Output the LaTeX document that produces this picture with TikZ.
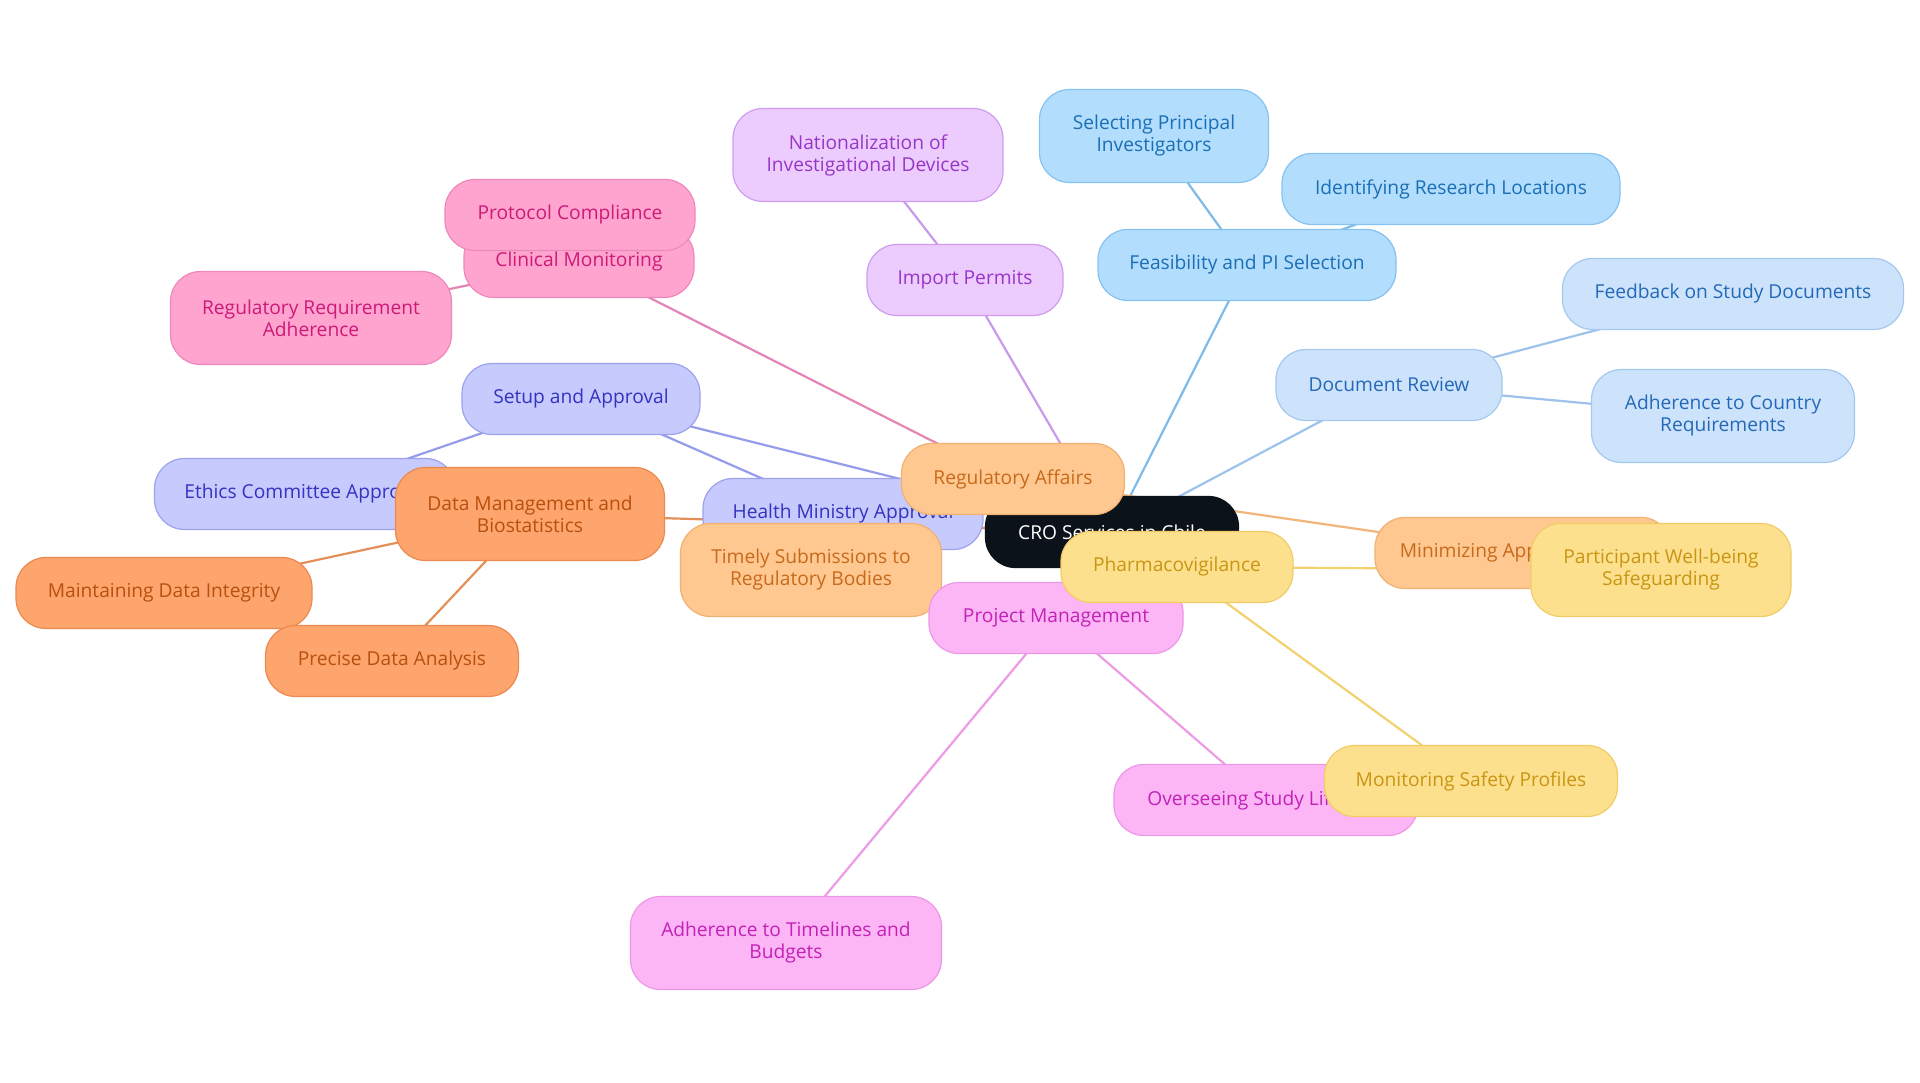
\documentclass[tikz,border=0pt]{standalone}
\usepackage{fontspec}
\setmainfont{Open Sans}
\usepackage{tikz}
\usetikzlibrary{backgrounds}
\definecolor{RootFill}{HTML}{0B1219}
\definecolor{FeasFill}{HTML}{B3DDFD}\definecolor{FeasLine}{HTML}{86C2F0}\definecolor{FeasText}{HTML}{1A6FB5}\definecolor{FeasEdge}{HTML}{7DBBE8}
\definecolor{DocFill}{HTML}{CDE3FB}\definecolor{DocLine}{HTML}{A4C8EE}\definecolor{DocText}{HTML}{2369B8}\definecolor{DocEdge}{HTML}{9DC3EC}
\definecolor{ImpFill}{HTML}{ECCBFD}\definecolor{ImpLine}{HTML}{CE9DF0}\definecolor{ImpText}{HTML}{9836C9}\definecolor{ImpEdge}{HTML}{C79BEA}
\definecolor{ClinFill}{HTML}{FFA4CF}\definecolor{ClinLine}{HTML}{EE88BA}\definecolor{ClinText}{HTML}{CC1A78}\definecolor{ClinEdge}{HTML}{E585B5}
\definecolor{SetFill}{HTML}{C7CAFD}\definecolor{SetLine}{HTML}{9CA2EE}\definecolor{SetText}{HTML}{3333BF}\definecolor{SetEdge}{HTML}{959CEB}
\definecolor{RegFill}{HTML}{FEC890}\definecolor{RegLine}{HTML}{F0B172}\definecolor{RegText}{HTML}{C86A1C}\definecolor{RegEdge}{HTML}{F2B57C}
\definecolor{DatFill}{HTML}{FDA56D}\definecolor{DatLine}{HTML}{EA8A50}\definecolor{DatText}{HTML}{B8500F}\definecolor{DatEdge}{HTML}{E39058}
\definecolor{PrjFill}{HTML}{FCB6F5}\definecolor{PrjLine}{HTML}{EC98E6}\definecolor{PrjText}{HTML}{C321B8}\definecolor{PrjEdge}{HTML}{EE9BE6}
\definecolor{PhvFill}{HTML}{FDE08D}\definecolor{PhvLine}{HTML}{F1CC66}\definecolor{PhvText}{HTML}{C89614}\definecolor{PhvEdge}{HTML}{F2D26E}
\tikzset{
  MB/.style={rectangle,rounded corners=30pt,inner sep=0pt,
             minimum width=250pt,minimum height=71pt,
             text centered,align=center,draw,line width=1.2pt,
             font=\fontsize{19.2}{22}\selectfont},
  tall/.style={minimum height=93pt},
  nRoot/.style={MB,fill=RootFill,draw=RootFill,text=white},
  nFeas/.style={MB,fill=FeasFill,draw=FeasLine,text=FeasText},
  nDoc/.style={MB,fill=DocFill,draw=DocLine,text=DocText},
  nImp/.style={MB,fill=ImpFill,draw=ImpLine,text=ImpText},
  nClin/.style={MB,fill=ClinFill,draw=ClinLine,text=ClinText},
  nSet/.style={MB,fill=SetFill,draw=SetLine,text=SetText},
  nReg/.style={MB,fill=RegFill,draw=RegLine,text=RegText},
  nDat/.style={MB,fill=DatFill,draw=DatLine,text=DatText},
  nPrj/.style={MB,fill=PrjFill,draw=PrjLine,text=PrjText},
  nPhv/.style={MB,fill=PhvFill,draw=PhvLine,text=PhvText},
  lnk/.style={line width=2.2pt}
}
\begin{document}
\begin{tikzpicture}[x=1pt,y=-1pt]
  \useasboundingbox (0,0) rectangle (1920,1083);
  % centre
  \node[nRoot,minimum width=253pt] (root) at (1112,532) {CRO Services in Chile};
  % feasibility
  \node[nFeas,minimum width=298pt] (feas) at (1247,265) {Feasibility and PI Selection};
  \node[nFeas,tall,minimum width=229pt] (selpi) at (1154,136) {Selecting Principal\\Investigators};
  \node[nFeas,minimum width=338pt] (idloc) at (1451,189) {Identifying Research Locations};
  % document review
  \node[nDoc,minimum width=226pt] (docrev) at (1389,385) {Document Review};
  \node[nDoc,minimum width=341pt] (feedb) at (1733,294) {Feedback on Study Documents};
  \node[nDoc,tall,minimum width=263pt] (adhcty) at (1723,416) {Adherence to Country\\Requirements};
  % import
  \node[nImp,minimum width=196pt] (imp) at (965,280) {Import Permits};
  \node[nImp,tall,minimum width=270pt] (natl) at (868,155) {Nationalization of\\Investigational Devices};
  % monitoring
  \node[nClin,minimum width=230pt] (clin) at (579,262) {Clinical Monitoring};
  \node[nClin,minimum width=250pt] (proto) at (570,215) {Protocol Compliance};
  \node[nClin,tall,minimum width=281pt] (regreq) at (311,318) {Regulatory Requirement\\Adherence};
  % setup
  \node[nSet,minimum width=238pt] (setup) at (581,399) {Setup and Approval};
  \node[nSet,minimum width=301pt] (ethics) at (305,494) {Ethics Committee Approval};
  \node[nSet,minimum width=280pt] (health) at (843,514) {Health Ministry Approval};
  % regulatory
  \node[nReg,minimum width=223pt] (reg) at (1013,479) {Regulatory Affairs};
  \node[nReg,tall,minimum width=261pt] (timely) at (811,570) {Timely Submissions to\\Regulatory Bodies};
  \node[nReg,minimum width=296pt] (minim) at (1523,553) {Minimizing Approval Delays};
  % data
  \node[nDat,tall,minimum width=269pt] (data) at (530,514) {Data Management and\\Biostatistics};
  \node[nDat,minimum width=296pt] (maint) at (164,593) {Maintaining Data Integrity};
  \node[nDat,minimum width=253pt] (precise) at (392,661) {Precise Data Analysis};
  % project
  \node[nPrj,minimum width=254pt] (proj) at (1056,618) {Project Management};
  \node[nPrj,minimum width=304pt] (overs) at (1266,800) {Overseeing Study Lifecycle};
  \node[nPrj,tall,minimum width=311pt] (adhtime) at (786,943) {Adherence to Timelines and\\Budgets};
  % pharmacovigilance
  \node[nPhv,minimum width=232pt] (pharm) at (1177,567) {Pharmacovigilance};
  \node[nPhv,tall,minimum width=260pt] (partic) at (1661,570) {Participant Well-being\\Safeguarding};
  \node[nPhv,minimum width=293pt] (monit) at (1471,781) {Monitoring Safety Profiles};
  \begin{scope}[on background layer]
    \fill[white] (0,0) rectangle (1920,1083);
    \draw[lnk,FeasEdge] (root.center)--(feas.center) (feas.center)--(selpi.center) (feas.center)--(idloc.center);
    \draw[lnk,DocEdge] (root.center)--(docrev.center) (docrev.center)--(feedb.center) (docrev.center)--(adhcty.center);
    \draw[lnk,ImpEdge] (root.center)--(imp.center) (imp.center)--(natl.center);
    \draw[lnk,ClinEdge] (root.center)--(clin.center) (clin.center)--(proto.center) (clin.center)--(regreq.center);
    \draw[lnk,SetEdge] (root.center)--(setup.center) (setup.center)--(ethics.center) (setup.center)--(health.center);
    \draw[lnk,RegEdge] (root.center)--(reg.center) (reg.center)--(timely.center) (reg.center)--(minim.center);
    \draw[lnk,DatEdge] (root.center)--(data.center) (data.center)--(maint.center) (data.center)--(precise.center);
    \draw[lnk,PrjEdge] (root.center)--(proj.center) (proj.center)--(overs.center) (proj.center)--(adhtime.center);
    \draw[lnk,PhvEdge] (root.center)--(pharm.center) (pharm.center)--(partic.center) (pharm.center)--(monit.center);
  \end{scope}
\end{tikzpicture}
\end{document}
